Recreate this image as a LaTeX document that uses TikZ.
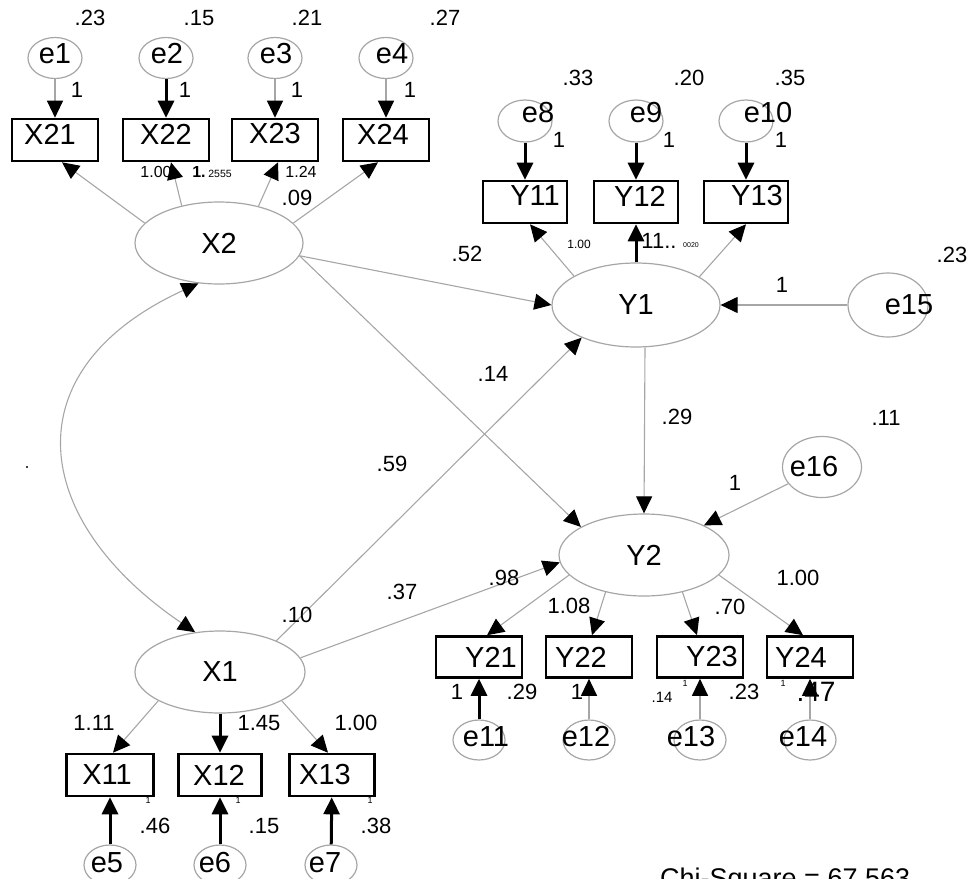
\documentclass[tikz,border=0pt]{standalone}
\usepackage{fontspec}
\setmainfont{Liberation Sans}
\usetikzlibrary{arrows.meta}
\usetikzlibrary{shapes.geometric}

\begin{document}
\begin{tikzpicture}[x=1pt,y=-1pt,
  lat node/.style={ellipse,draw=gray!70,line width=1.2,minimum width=168,minimum height=82,inner sep=0,font=\fontsize{29}{29}\selectfont},
  err node/.style={ellipse,draw=gray!70,line width=1.2,minimum width=54,minimum height=41,inner sep=0},
  obs node/.style={rectangle,draw,line width=2.6,minimum width=86,minimum height=42,inner sep=0},
  vname/.style={font=\fontsize{29}{29}\selectfont,inner sep=0},
  coef/.style={font=\fontsize{22}{22}\selectfont,inner sep=0},
  gray edge/.style={-{Triangle[length=17pt,width=16pt,color=black]},draw=gray!70,line width=1.1},
  black edge/.style={-{Triangle[length=17pt,width=16pt,color=black]},draw=black,line width=3},
  cov edge/.style={{Triangle[length=17pt,width=16pt,color=black]}-{Triangle[length=17pt,width=16pt,color=black]},draw=gray!70,line width=1.1}]

  \useasboundingbox (0,0) rectangle (973,878);

  % latent variables
  \node[lat node] (X2) at (219,243) {X2};
  \node[lat node,minimum height=84] (Y1) at (636,305) {Y1};
  \node[lat node,minimum width=170] (Y2) at (644,555) {Y2};
  \node[lat node,minimum width=170] (X1) at (220,672) {X1};

  % indicators of X2
  \node[obs node,label={[vname,xshift=-5,yshift=6]center:X21}] (X21) at (55,140) {};
  \node[obs node,label={[vname,yshift=6]center:X22}] (X22) at (166,140) {};
  \node[obs node,label={[vname,yshift=6]center:X23}] (X23) at (275,140) {};
  \node[obs node,label={[vname,xshift=-3,yshift=6]center:X24}] (X24) at (386,140) {};
  \node[err node,label={[vname,yshift=4]center:e1}] (e1) at (55,58) {};
  \node[err node,label={[vname,xshift=1,yshift=4]center:e2}] (e2) at (166,58) {};
  \node[err node,label={[vname,xshift=1,yshift=4]center:e3}] (e3) at (275,58) {};
  \node[err node,label={[vname,xshift=6,yshift=4]center:e4}] (e4) at (386,58) {};

  % indicators of Y1
  \node[obs node,minimum width=84,label={[vname,xshift=10,yshift=6]center:Y11}] (Y11) at (525,202) {};
  \node[obs node,minimum width=84,label={[vname,xshift=4,yshift=6]center:Y12}] (Y12) at (636,202) {};
  \node[obs node,minimum width=84,label={[vname,xshift=11,yshift=6]center:Y13}] (Y13) at (746,202) {};
  \node[err node,minimum height=42,label={[vname,xshift=13,yshift=8]center:e8}] (e8) at (525,121) {};
  \node[err node,minimum height=42,label={[vname,xshift=10,yshift=8]center:e9}] (e9) at (636,121) {};
  \node[err node,minimum height=42,label={[vname,xshift=22,yshift=8]center:e10}] (e10) at (746,121) {};
  \node[err node,minimum width=80,minimum height=64,label={[vname,xshift=21]center:e15}] (e15) at (888,305) {};

  % indicators of Y2
  \node[obs node,minimum height=41,label={[vname,xshift=12]center:Y21}] (Y21) at (479,657) {};
  \node[obs node,minimum height=41,label={[vname,xshift=-8]center:Y22}] (Y22) at (589,657) {};
  \node[obs node,minimum height=41,label={[vname,xshift=12]center:Y23}] (Y23) at (700,657) {};
  \node[obs node,minimum height=41,label={[vname,xshift=-9]center:Y24}] (Y24) at (810,657) {};
  \node[err node,minimum width=52,minimum height=40,label={[vname,xshift=7,yshift=3]center:e11}] (e11) at (479,740) {};
  \node[err node,minimum width=52,minimum height=40,label={[vname,xshift=-3,yshift=3]center:e12}] (e12) at (589,740) {};
  \node[err node,minimum width=52,minimum height=40,label={[vname,xshift=-9,yshift=3]center:e13}] (e13) at (700,740) {};
  \node[err node,minimum width=52,minimum height=40,label={[vname,xshift=-7,yshift=3]center:e14}] (e14) at (810,740) {};
  \node[err node,minimum width=79,minimum height=61,label={[vname,xshift=-8]center:e16}] (e16) at (822,467) {};

  % indicators of X1
  \node[obs node,minimum width=87,label={[vname,xshift=-3]center:X11}] (X11) at (110,775) {};
  \node[obs node,minimum width=83,label={[vname,xshift=-1]center:X12}] (X12) at (220,775) {};
  \node[obs node,minimum width=85,label={[vname,xshift=-7]center:X13}] (X13) at (332,775) {};
  \node[err node,minimum width=52,minimum height=40,label={[vname,xshift=-3,yshift=2]center:e5}] (e5) at (110,865) {};
  \node[err node,minimum width=52,minimum height=40,label={[vname,xshift=-5,yshift=2]center:e6}] (e6) at (220,865) {};
  \node[err node,minimum width=52,minimum height=40,label={[vname,xshift=-6,yshift=2]center:e7}] (e7) at (331,865) {};

  % loadings
  \draw[gray edge] (X2.165) -- ([xshift=7]X21.south);
  \draw[gray edge] (X2.135) -- ([xshift=5]X22.south);
  \draw[gray edge] (X2.43) -- ([xshift=3]X23.south);
  \draw[gray edge] (X2.15) -- ([xshift=-8]X24.south);
  \draw[gray edge] (Y1.155) -- ([xshift=5]Y11.south);
  \draw[black edge] (Y1.north) -- (Y12.south);
  \draw[gray edge] (Y1.24) -- (Y13.south);
  \draw[gray edge] (Y2.195) -- ([xshift=8]Y21.north);
  \draw[gray edge] (Y2.224) -- ([xshift=3]Y22.north);
  \draw[gray edge] (Y2.316) -- ([xshift=-3]Y23.north);
  \draw[gray edge] (Y2.345) -- ([xshift=-7]Y24.north);
  \draw[gray edge] (X1.205) -- ([xshift=3]X11.north);
  \draw[black edge] (X1.south) -- (X12.north);
  \draw[gray edge] (X1.335) -- ([xshift=-4]X13.north);

  % errors
  \draw[gray edge] (e1) -- (X21);
  \draw[black edge] (e2) -- (X22);
  \draw[gray edge] (e3) -- (X23);
  \draw[gray edge] (e4) -- (X24);
  \draw[black edge] (e8) -- (Y11);
  \draw[black edge] (e9) -- (Y12);
  \draw[black edge] (e10) -- (Y13);
  \draw[black edge] (e11) -- (Y21);
  \draw[gray edge] (e12) -- (Y22);
  \draw[gray edge] (e13) -- (Y23);
  \draw[gray edge] (e14) -- (Y24);
  \draw[black edge] (e5) -- (X11);
  \draw[black edge] (e6) -- (X12);
  \draw[black edge] (e7) -- (X13);
  \draw[gray edge] (e15) -- (Y1);
  \draw[gray edge] (e16) -- (Y2);

  % structural paths
  \draw[gray edge] (X2.-9) -- (Y1.west);
  \draw[gray edge] (X2.-9) -- (Y2.156);
  \draw[gray edge] (X1.29) -- (Y1.211);
  \draw[gray edge] (X1.10) -- (Y2.185);
  \draw[gray edge] ([xshift=9]Y1.south) -- (Y2.north);
  \draw[cov edge] (X2.243) .. controls (10,370) and (30,520) .. (X1.122);

  % estimates
  \node[coef] (v1) at (90,18) {.23};
  \node[coef] (v2) at (199,18) {.15};
  \node[coef] (v3) at (307,18) {.21};
  \node[coef] (v4) at (445,18) {.27};
  \node[coef] (w1) at (77,90) {1};
  \node[coef] (w2) at (185,90) {1};
  \node[coef] (w3) at (297,90) {1};
  \node[coef] (w4) at (410,90) {1};
  \node[coef,font=\fontsize{16}{16}\selectfont] (l21) at (156,172) {1.00};
  \node[coef,font=\fontsize{16}{16}\selectfont\bfseries] (l22a) at (199,172) {1.};
  \node[coef,font=\fontsize{10.5}{10.5}\selectfont] (l22b) at (220,174) {2555};
  \node[coef,font=\fontsize{16}{16}\selectfont] (l23) at (301,172) {1.24};
  \node[coef] (l24) at (297,198) {.09};
  \node[coef] (v8) at (578,78) {.33};
  \node[coef] (v9) at (689,78) {.20};
  \node[coef] (v10) at (790,78) {.35};
  \node[coef] (w8) at (559,140) {1};
  \node[coef] (w9) at (669,140) {1};
  \node[coef] (w10) at (781,140) {1};
  \node[coef,font=\fontsize{12}{12}\selectfont] (l11) at (579,244) {1.00};
  \node[coef] (l12a) at (659,241) {11..};
  \node[coef,font=\fontsize{7}{7}\selectfont] (l12b) at (691,245) {0020};
  \node[coef] (b21) at (467,254) {.52};
  \node[coef] (v15) at (952,255) {.23};
  \node[coef] (w15) at (782,285) {1};
  \node[coef] (r1) at (493,374) {.14};
  \node[coef] (b12) at (677,417) {.29};
  \node[coef] (v16) at (886,418) {.11};
  \node[coef] (r2) at (392,464) {.59};
  \node[coef] (w16) at (735,483) {1};
  \node[coef] (l31) at (504,578) {.98};
  \node[coef] (l34) at (798,578) {1.00};
  \node[coef] (b32) at (402,592) {.37};
  \node[coef] (l32) at (569,606) {1.08};
  \node[coef] (l33) at (730,607) {.70};
  \node[coef] (b31) at (297,615) {.10};
  \node[coef] (w11) at (457,692) {1};
  \node[coef] (v11) at (522,692) {.29};
  \node[coef] (w12) at (577,692) {1};
  \node[coef,font=\fontsize{15}{15}\selectfont] (v13) at (662,697) {.14};
  \node[coef,font=\fontsize{9}{9}\selectfont] (w13) at (685,683) {1};
  \node[coef] (v12) at (744,692) {.23};
  \node[coef,font=\fontsize{9}{9}\selectfont] (w14) at (783,683) {1};
  \node[coef,font=\fontsize{28}{28}\selectfont] (v14) at (816,692) {.47};
  \node[coef] (l41) at (94,723) {1.11};
  \node[coef] (l42) at (259,723) {1.45};
  \node[coef] (l43) at (356,723) {1.00};
  \node[coef,font=\fontsize{9}{9}\selectfont] (w5) at (148,800) {1};
  \node[coef,font=\fontsize{9}{9}\selectfont] (w6) at (238,800) {1};
  \node[coef,font=\fontsize{9}{9}\selectfont] (w7) at (370,800) {1};
  \node[coef] (v5) at (155,826) {.46};
  \node[coef] (v6) at (264,826) {.15};
  \node[coef] (v7) at (376,826) {.38};
  \fill (27,467) circle (1.2);
  \node[coef,font=\fontsize{27}{27}\selectfont,anchor=base west] (chi) at (660,887) {Chi-Square = 67.563};
\end{tikzpicture}
\end{document}
